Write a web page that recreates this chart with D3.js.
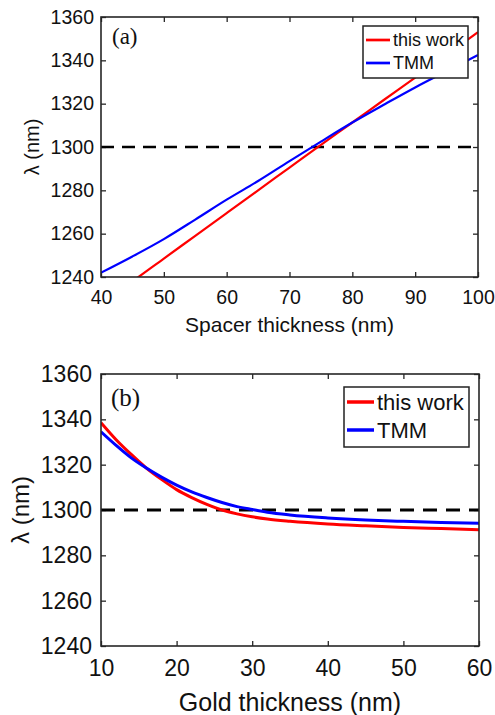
<!DOCTYPE html>
<html>
<head>
<meta charset="utf-8">
<script src="https://cdn.jsdelivr.net/npm/d3@7"></script>
<style>
  body { margin: 0; background: #fff; }
  svg { display: block; font-family: "Liberation Sans", Arial, sans-serif; }
</style>
</head>
<body>
<svg width="495" height="715"></svg>
<script>
// panel (a): resonance wavelength vs spacer thickness
const spacerThickness = [40, 45, 50, 55, 60, 65, 70, 75, 80, 85, 90, 95, 100];
const spacerThisWork = [1228, 1238, 1248.5, 1259, 1269.5, 1280, 1290.5, 1301, 1311.3, 1321.7, 1332, 1342.5, 1353];
const spacerTmm = [1242, 1249.5, 1257.5, 1266.5, 1275.7, 1284.3, 1293.5, 1302.5, 1311.3, 1319.5, 1327.5, 1335, 1342.5];

// panel (b): resonance wavelength vs gold thickness
const goldThickness = [10, 12, 14, 16, 18, 20, 22, 24, 26, 28, 30, 32, 35, 40, 45, 50, 55, 60];
const goldThisWork = [1338.5, 1331, 1324.5, 1318.5, 1313.5, 1309, 1305.5, 1302.5, 1300, 1298.3, 1297, 1296, 1295, 1293.8, 1293, 1292.3, 1291.8, 1291.3];
const goldTmm = [1334.5, 1328.5, 1323, 1318.5, 1314.5, 1311, 1308, 1305.5, 1303.3, 1301.5, 1300.2, 1299, 1297.8, 1296.5, 1295.6, 1295, 1294.5, 1294.1];

const yTicks = [1240, 1260, 1280, 1300, 1320, 1340, 1360];
const targetWavelength = 1300;
const seriesNames = ["this work", "TMM"];
const seriesColors = ["#ff0000", "#0000ff"];

var svg = d3.select("svg");

function drawPanel(p) {
  var g = svg.append("g").attr("transform", "translate(" + p.left + "," + p.top + ")");

  var xScale = d3.scaleLinear().domain(p.xDomain).range([0, p.width]);
  var yScale = d3.scaleLinear().domain([1240, 1360]).range([p.height, 0]);

  g.append("clipPath").attr("id", p.id + "-clip")
    .append("rect").attr("width", p.width).attr("height", p.height);

  // ===========================================================================
  // AXES (MATLAB style box with inward ticks)
  // ===========================================================================
  var axes = [
    { axis: d3.axisBottom(xScale).tickValues(p.xTicks).tickPadding(p.xPad), t: "translate(0," + p.height + ")", labels: true },
    { axis: d3.axisTop(xScale).tickValues(p.xTicks), t: null, labels: false },
    { axis: d3.axisLeft(yScale).tickValues(yTicks).tickFormat(d3.format("d")).tickPadding(p.yPad), t: null, labels: true },
    { axis: d3.axisRight(yScale).tickValues(yTicks), t: "translate(" + p.width + ",0)", labels: false }
  ];
  axes.forEach(function (a) {
    var ax = g.append("g").call(a.axis.tickSizeInner(-5).tickSizeOuter(0));
    if (a.t) ax.attr("transform", a.t);
    ax.select(".domain").remove();
    ax.selectAll("line").attr("stroke", "#262626").attr("stroke-width", 1.3);
    if (a.labels) {
      ax.selectAll("text").attr("fill", "#111").style("font-size", p.tickFont + "px");
    } else {
      ax.selectAll("text").remove();
    }
  });

  // ===========================================================================
  // LINES
  // ===========================================================================
  var plot = g.append("g").attr("clip-path", "url(#" + p.id + "-clip)");

  plot.append("line")
    .attr("x1", 0).attr("x2", p.width)
    .attr("y1", yScale(targetWavelength)).attr("y2", yScale(targetWavelength))
    .attr("stroke", "#000").attr("stroke-width", p.dashWidth)
    .attr("stroke-dasharray", p.dash);

  var line = d3.line()
    .x((d) => xScale(d[0]))
    .y((d) => yScale(d[1]))
    .curve(d3.curveMonotoneX);

  [p.thisWork, p.tmm].forEach(function (vals, i) {
    plot.append("path")
      .datum(p.x.map((xv, j) => [xv, vals[j]]))
      .attr("fill", "none")
      .attr("stroke", seriesColors[i])
      .attr("stroke-width", p.lineWidth)
      .attr("d", line);
  });

  g.append("rect")
    .attr("width", p.width).attr("height", p.height)
    .attr("fill", "none").attr("stroke", "#262626").attr("stroke-width", 1.6);

  // panel tag
  g.append("text")
    .attr("x", p.tagX).attr("y", p.tagY)
    .style("font-family", "'Liberation Serif', 'Times New Roman', serif")
    .style("font-size", p.tagFont + "px")
    .attr("fill", "#111")
    .text(p.tag);

  // ===========================================================================
  // LEGEND
  // ===========================================================================
  var leg = g.append("g").attr("transform", "translate(" + (p.width - p.legW - 10) + "," + p.legTop + ")");
  leg.append("rect")
    .attr("width", p.legW).attr("height", p.legH)
    .attr("fill", "#fff").attr("stroke", "#222").attr("stroke-width", 1.5);
  seriesNames.forEach(function (name, i) {
    var yy = p.legRow0 + i * p.legStep;
    leg.append("line")
      .attr("x1", 3).attr("x2", 3 + p.legLine)
      .attr("y1", yy).attr("y2", yy)
      .attr("stroke", seriesColors[i]).attr("stroke-width", p.lineWidth + 0.5);
    leg.append("text")
      .attr("x", 6 + p.legLine).attr("y", yy)
      .attr("dy", "0.35em")
      .attr("fill", "#111")
      .style("font-size", p.legFont + "px")
      .text(name);
  });

  // ===========================================================================
  // LABELS
  // ===========================================================================
  g.append("text")
    .attr("x", p.width / 2)
    .attr("y", p.xLabelY)
    .attr("text-anchor", "middle")
    .attr("fill", "#111")
    .style("font-size", p.labelFont + "px")
    .text(p.xLabel);

  g.append("text")
    .attr("transform", "rotate(-90)")
    .attr("x", -p.height / 2)
    .attr("y", p.yLabelX)
    .attr("text-anchor", "middle")
    .attr("fill", "#111")
    .style("font-size", p.yLabelFont + "px")
    .text("\u03bb (nm)");
}

drawPanel({
  id: "a", left: 101, top: 17, width: 377, height: 260,
  xDomain: [40, 100], xTicks: [40, 50, 60, 70, 80, 90, 100],
  x: spacerThickness, thisWork: spacerThisWork, tmm: spacerTmm,
  xPad: 13, yPad: 7, tickFont: 19.5, labelFont: 21, yLabelFont: 20, yLabelX: -62,
  xLabel: "Spacer thickness (nm)", xLabelY: 315,
  lineWidth: 2.2, dash: "13,8", dashWidth: 2.5,
  tag: "(a)", tagX: 11, tagY: 27, tagFont: 23,
  legW: 105, legH: 52, legTop: 9, legRow0: 14, legStep: 23, legLine: 24, legFont: 18
});

drawPanel({
  id: "b", left: 101, top: 374, width: 378, height: 272,
  xDomain: [10, 60], xTicks: [10, 20, 30, 40, 50, 60],
  x: goldThickness, thisWork: goldThisWork, tmm: goldTmm,
  xPad: 14, yPad: 9, tickFont: 23, labelFont: 25, yLabelFont: 24, yLabelX: -72,
  xLabel: "Gold thickness (nm)", xLabelY: 337,
  lineWidth: 3, dash: "14,9", dashWidth: 3,
  tag: "(b)", tagX: 10, tagY: 32, tagFont: 25,
  legW: 125, legH: 60, legTop: 13, legRow0: 15, legStep: 28, legLine: 27, legFont: 22
});
</script>
</body>
</html>
